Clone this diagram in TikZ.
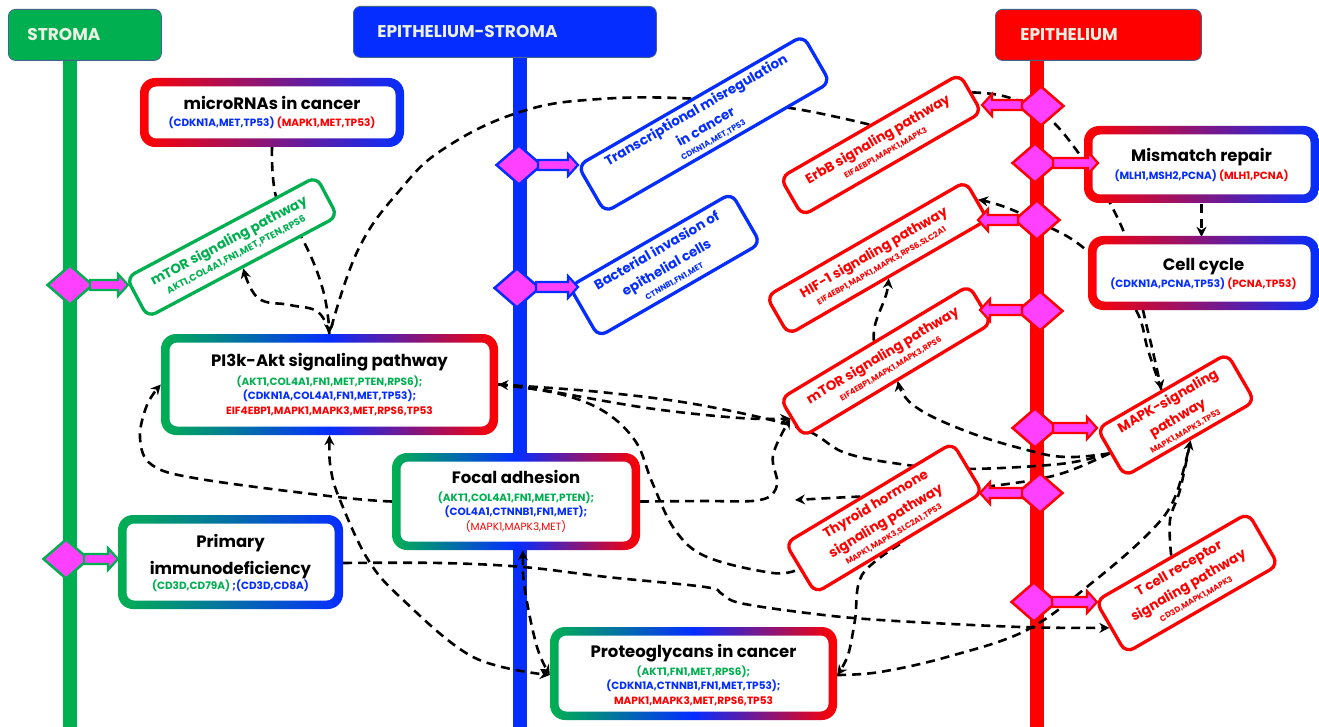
\documentclass[tikz,border=0pt]{standalone}
\usepackage{fontspec}
\setmainfont{Poppins}
\usetikzlibrary{shapes.geometric,arrows.meta}
\definecolor{sgreen}{RGB}{0,176,80}
\definecolor{eblue}{RGB}{5,45,255}
\definecolor{ered}{RGB}{255,0,0}
\definecolor{dpink}{RGB}{255,64,255}
\definecolor{hdrtext}{RGB}{236,240,226}
\definecolor{hdredge}{RGB}{65,100,140}
\pgfdeclarelayer{lanes}
\pgfdeclarelayer{conns}
\pgfsetlayers{lanes,conns,main}
\newcommand\hdrfont{\fontsize{17}{20}\selectfont\bfseries}
\newcommand\ttlfont{\fontsize{16.5}{20}\selectfont\bfseries}
\newcommand\genfont{\fontsize{10.5}{14.5}\selectfont\bfseries}
\newcommand\rttlfont{\fontsize{13.5}{19.5}\selectfont\bfseries}
\newcommand\rgenfont{\fontsize{8}{10}\selectfont\bfseries}
\newcommand\rgenbig{\fontsize{9.5}{11}\selectfont\bfseries}
\newcommand\gbox[5]{\shade[rounded corners=15pt,#5] (#1,#2) rectangle (#3,#4);
  \fill[white,rounded corners=8pt] ([xshift=8.5pt,yshift=-8.5pt]#1,#2) rectangle ([xshift=-8.5pt,yshift=8.5pt]#3,#4);}
\newcommand\blockarr[5]{\draw[line width=2.2pt,draw=#1,fill=dpink,line join=miter]
  (#2,#4-5) -- (#3-10*#5,#4-5) -- (#3-10*#5,#4-11) -- (#3,#4) -- (#3-10*#5,#4+11) -- (#3-10*#5,#4+5) -- (#2,#4+5) -- cycle;}
\begin{document}
\begin{tikzpicture}[x=1pt,y=-1pt,
  hdr/.style={rounded corners=7pt,draw=hdredge,line width=0.8pt,text=hdrtext,font=\hdrfont,align=left,anchor=north west,minimum height=51pt,inner ysep=0pt},
  lane/.style={line width=14pt},
  dia/.style={diamond,fill=dpink,line width=2.5pt,minimum width=46pt,minimum height=40pt,inner sep=0pt},
  gnode/.style={align=center,inner sep=0pt,font=\genfont,text=black},
  rbox/.style={draw=#1,text=#1,line width=3.3pt,rounded corners=9pt,fill=white,align=center,inner sep=1pt,font=\rttlfont},
  conn/.style={line width=2.6pt,dash pattern=on 9pt off 6pt,black},
  arr/.style={-{Stealth[length=10pt,width=10pt]}},
  barr/.style={{Stealth[length=10pt,width=10pt]}-{Stealth[length=10pt,width=10pt]}}]
\useasboundingbox (0,0) rectangle (1319,727);
\begin{pgfonlayer}{lanes}
\fill[white] (0,0) rectangle (1319,727);
\draw[lane,sgreen] (70,50) -- (70,730);
\draw[lane,eblue] (520,50) -- (520,730);
\draw[lane,ered] (1037,50) -- (1037,730);
\end{pgfonlayer}
% headers
\node[hdr,fill=sgreen,inner xsep=19pt,text width=115pt] (hstroma) at (8,9) {STROMA};
\node[hdr,fill=eblue,inner xsep=24pt,text width=255pt] (hes) at (353,6) {EPITHELIUM-STROMA};
\node[hdr,fill=ered,inner xsep=25pt,text width=156pt] (hepi) at (995,9) {EPITHELIUM};
% gradient boxes
\gbox{140}{78}{404}{147}{left color=ered,right color=eblue}
\node[gnode,minimum width=264pt,minimum height=69pt] (micro) at (272,112.5)
 {{\ttlfont microRNAs in cancer}\\[3pt]\textcolor{eblue}{(CDKN1A,MET,TP53)} \textcolor{ered}{(MAPK1,MET,TP53)}};
\gbox{161}{334}{498}{435}{left color=sgreen,right color=ered,middle color=eblue}
\node[gnode,minimum width=337pt,minimum height=101pt] (pi3k) at (329.5,384.5)
 {{\ttlfont PI3k-Akt signaling pathway}\\[4pt]\textcolor{sgreen}{(AKT1,COL4A1,FN1,MET,PTEN,RPS6);}\\\textcolor{eblue}{(CDKN1A,COL4A1,FN1,MET,TP53);}\\\textcolor{ered}{EIF4EBP1,MAPK1,MAPK3,MET,RPS6,TP53}};
\gbox{392}{453}{640}{550}{left color=sgreen,right color=ered,middle color=eblue}
\node[gnode,minimum width=248pt,minimum height=97pt] (focal) at (516,501.5)
 {{\ttlfont Focal adhesion}\\[3pt]\textcolor{sgreen}{(AKT1,COL4A1,FN1,MET,PTEN);}\\\textcolor{eblue}{(COL4A1,CTNNB1,FN1,MET);}\\\textcolor{ered}{\mdseries(MAPK1,MAPK3,MET)}};
\gbox{118}{515}{343}{609}{left color=sgreen,right color=eblue}
\node[gnode,minimum width=225pt,minimum height=94pt] (prim) at (230.5,563)
 {{\ttlfont Primary}\\[8pt]{\ttlfont immunodeficiency}\\[1pt]\textcolor{sgreen}{(CD3D,CD79A) }\textcolor{eblue}{;(CD3D,CD8A)}};
\gbox{550}{627}{837}{720}{left color=sgreen,right color=ered,middle color=eblue}
\node[gnode,minimum width=287pt,minimum height=93pt] (proteo) at (693.5,675)
 {{\ttlfont Proteoglycans in cancer}\\[3pt]\textcolor{sgreen}{(AKT1,FN1,MET,RPS6);}\\\textcolor{eblue}{(CDKN1A,CTNNB1,FN1,MET,TP53);}\\\textcolor{ered}{MAPK1,MAPK3,MET,RPS6,TP53}};
\gbox{1084}{126}{1319}{203}{left color=ered,right color=eblue}
\node[gnode,minimum width=235pt,minimum height=77pt] (mismatch) at (1201.5,165)
 {{\ttlfont Mismatch repair}\\[3pt]\textcolor{eblue}{(MLH1,MSH2,PCNA)} \textcolor{ered}{(MLH1,PCNA)}};
\gbox{1088}{236}{1319}{310}{left color=ered,right color=eblue}
\node[gnode,minimum width=231pt,minimum height=74pt] (cellcycle) at (1203.5,274)
 {{\ttlfont Cell cycle}\\[3pt]\textcolor{eblue}{(CDKN1A,PCNA,TP53)} \textcolor{ered}{(PCNA,TP53)}};
% rotated boxes
\node[rbox=sgreen,rotate=28,minimum width=215pt,minimum height=45pt] (mtorG) at (232,247)
 {mTOR signaling pathway\\[-5pt]{\rgenbig AKT1,COL4A1,FN1,MET,PTEN,RPS6}};
\node[rbox=eblue,rotate=30,minimum width=260pt,minimum height=54pt] (trans) at (704,124)
 {Transcriptional misregulation\\in cancer\\[-6pt]{\rgenfont CDKN1A,MET,TP53}};
\node[rbox=eblue,rotate=30,minimum width=187pt,minimum height=58pt] (bact) at (665,265)
 {Bacterial invasion of\\epithelial cells\\[-5.5pt]{\rgenfont CTNNB1,FN1,MET}};
\node[rbox=ered,rotate=30,minimum width=207pt,minimum height=44pt] (erbb) at (881,145)
 {ErbB signaling pathway\\[-5.5pt]{\rgenfont EIF4EBP1,MAPK1,MAPK3}};
\node[rbox=ered,rotate=30,minimum width=230pt,minimum height=44pt] (hif) at (877,258)
 {HIF-1 signaling pathway\\[-5.5pt]{\rgenfont EIF4EBP1,MAPK1,MAPK3,RPS6,SLC2A1}};
\node[rbox=ered,rotate=31,minimum width=220pt,minimum height=44pt] (mtorR) at (886,361)
 {mTOR signaling pathway\\[-5.5pt]{\rgenfont EIF4EBP1,MAPK1,MAPK3,RPS6}};
\node[rbox=ered,rotate=30,minimum width=150pt,minimum height=55pt] (mapk) at (1176,415)
 {MAPK-signaling\\pathway\\[-5.5pt]{\rgenfont MAPK1,MAPK3,TP53}};
\node[rbox=ered,rotate=31,minimum width=195pt,minimum height=58pt] (thyr) at (884,518)
 {Thyroid hormone\\signaling pathway\\[-5.5pt]{\rgenfont MAPK1,MAPK3,SLC2A1,TP53}};
\node[rbox=ered,rotate=30,minimum width=176pt,minimum height=60pt] (tcell) at (1187,583)
 {T cell receptor\\signaling pathway\\[-5.5pt]{\rgenfont CD3D,MAPK1,MAPK3}};
% diamonds
\node[dia,draw=sgreen] (dg1) at (70,285) {};
\node[dia,draw=sgreen] (dg2) at (66,559) {};
\node[dia,draw=eblue] (db1) at (519,165) {};
\node[dia,draw=eblue] (db2) at (517,288) {};
\node[dia,draw=ered] (dr1) at (1041,106) {};
\node[dia,draw=ered] (dr2) at (1035,163) {};
\node[dia,draw=ered] (dr3) at (1037,220) {};
\node[dia,draw=ered] (dr4) at (1040,311) {};
\node[dia,draw=ered] (dr5) at (1035,428) {};
\node[dia,draw=ered] (dr6) at (1040,493) {};
\node[dia,draw=ered] (dr7) at (1034,602) {};
% block arrows
\blockarr{sgreen}{90}{128}{285}{1}
\blockarr{sgreen}{84}{118}{559}{1}
\blockarr{eblue}{538}{578}{165}{1}
\blockarr{eblue}{536}{578}{287}{1}
\blockarr{ered}{1022}{982}{105}{-1}
\blockarr{ered}{1053}{1098}{163}{1}
\blockarr{ered}{1018}{978}{220}{-1}
\blockarr{ered}{1022}{980}{310}{-1}
\blockarr{ered}{1053}{1097}{428}{1}
\blockarr{ered}{1022}{980}{493}{-1}
\blockarr{ered}{1052}{1097}{602}{1}
% connectors
\coordinate (fajoin) at (795,500);
\begin{pgfonlayer}{conns}
\draw[conn,arr] plot[smooth,tension=0.7] coordinates {(micro.south) (277,200) (303,240) (323,290) (pi3k.north)};
\draw[conn,arr] plot[smooth,tension=0.7] coordinates {(pi3k.north) (318,312) (290,305) (258,298) (mtorG.south)};
\draw[conn] plot[smooth,tension=0.7] coordinates {(erbb.north) (790,108) (700,99) (600,99) (520,112) (445,148) (400,190) (358,250) (pi3k.north)};
\draw[conn,arr] plot[smooth,tension=0.7] coordinates {(erbb.east) (1007,97) (1045,115) (1080,155) (1110,203) (1132,255) (1143,310) (1153,352) (mapk.north)};
\draw[conn,arr] plot[smooth,tension=0.7] coordinates {(mapk.north) (1148,350) (1137,312) (1110,275) (1080,245) (1045,225) (1005,207) (hif.east)};
\draw[conn,arr] (mismatch.south) -- (mismatch.south |- cellcycle.north);
\draw[conn,arr] (mtorR.north) .. controls (872,318) and (886,305) .. (hif.south);
\draw[conn,arr] plot[smooth,tension=0.7] coordinates {(mapk.west) (1067,457) (1027,450) (963,430) (913,405) (mtorR.south)};
\draw[conn,arr] plot[smooth,tension=0.6] coordinates {(pi3k.east) (537,389) (647,408) (740,418) (mtorR.west)};
\draw[conn,arr] plot[smooth,tension=0.6] coordinates {(mapk.west) (1060,464) (960,469) (893,463) (843,452) (800,428) (700,405) (600,392) (pi3k.east)};
\draw[conn] plot[smooth,tension=0.6] coordinates {(pi3k.east) (560,394) (605,412) (636,442) (652,482) (675,530) (707,557) (773,573) (thyr.west)};
\draw[conn,arr] plot[smooth,tension=0.6] coordinates {(focal.west) (337,497) (200,479) (152,465) (140,438) (147,405) (pi3k.west)};
\draw[conn,barr] plot[smooth,tension=0.6] coordinates {(pi3k.south) (331,470) (340,500) (367,558) (400,597) (473,657) (proteo.west)};
\draw[conn,barr] plot[smooth,tension=0.6] coordinates {([xshift=7pt]focal.south) (525,590) (537,647) (proteo.west)};
\draw[conn,arr] plot[smooth,tension=0.6] coordinates {(prim.east) (440,563) (523,567) (607,577) (705,587) (722,594) (740,603) (807,613) (880,620) (1020,627) (tcell.west)};
\draw[conn,arr] plot[smooth,tension=0.6] coordinates {(thyr.south) (862,575) (855,620) (848,655) (proteo.east)};
\draw[conn,arr] plot[smooth,tension=0.6] coordinates {(proteo.east) (880,672) (947,657) (1027,630) (1093,582) (1150,532) (1175,497) (mapk.south)};
\draw[conn] plot[smooth,tension=0.6] coordinates {(tcell.north) (1170,520) (1180,490) (mapk.south)};
\draw[conn,arr] plot[smooth,tension=0.6] coordinates {(focal.east) (700,501) (760,500) (777,485) (773,455) (mtorR.west)};
\draw[conn,arr] plot[smooth,tension=0.6] coordinates {(mapk.west) (1060,474) (1000,485) (900,495) (850,497) (fajoin)};
\end{pgfonlayer}
\end{tikzpicture}
\end{document}
